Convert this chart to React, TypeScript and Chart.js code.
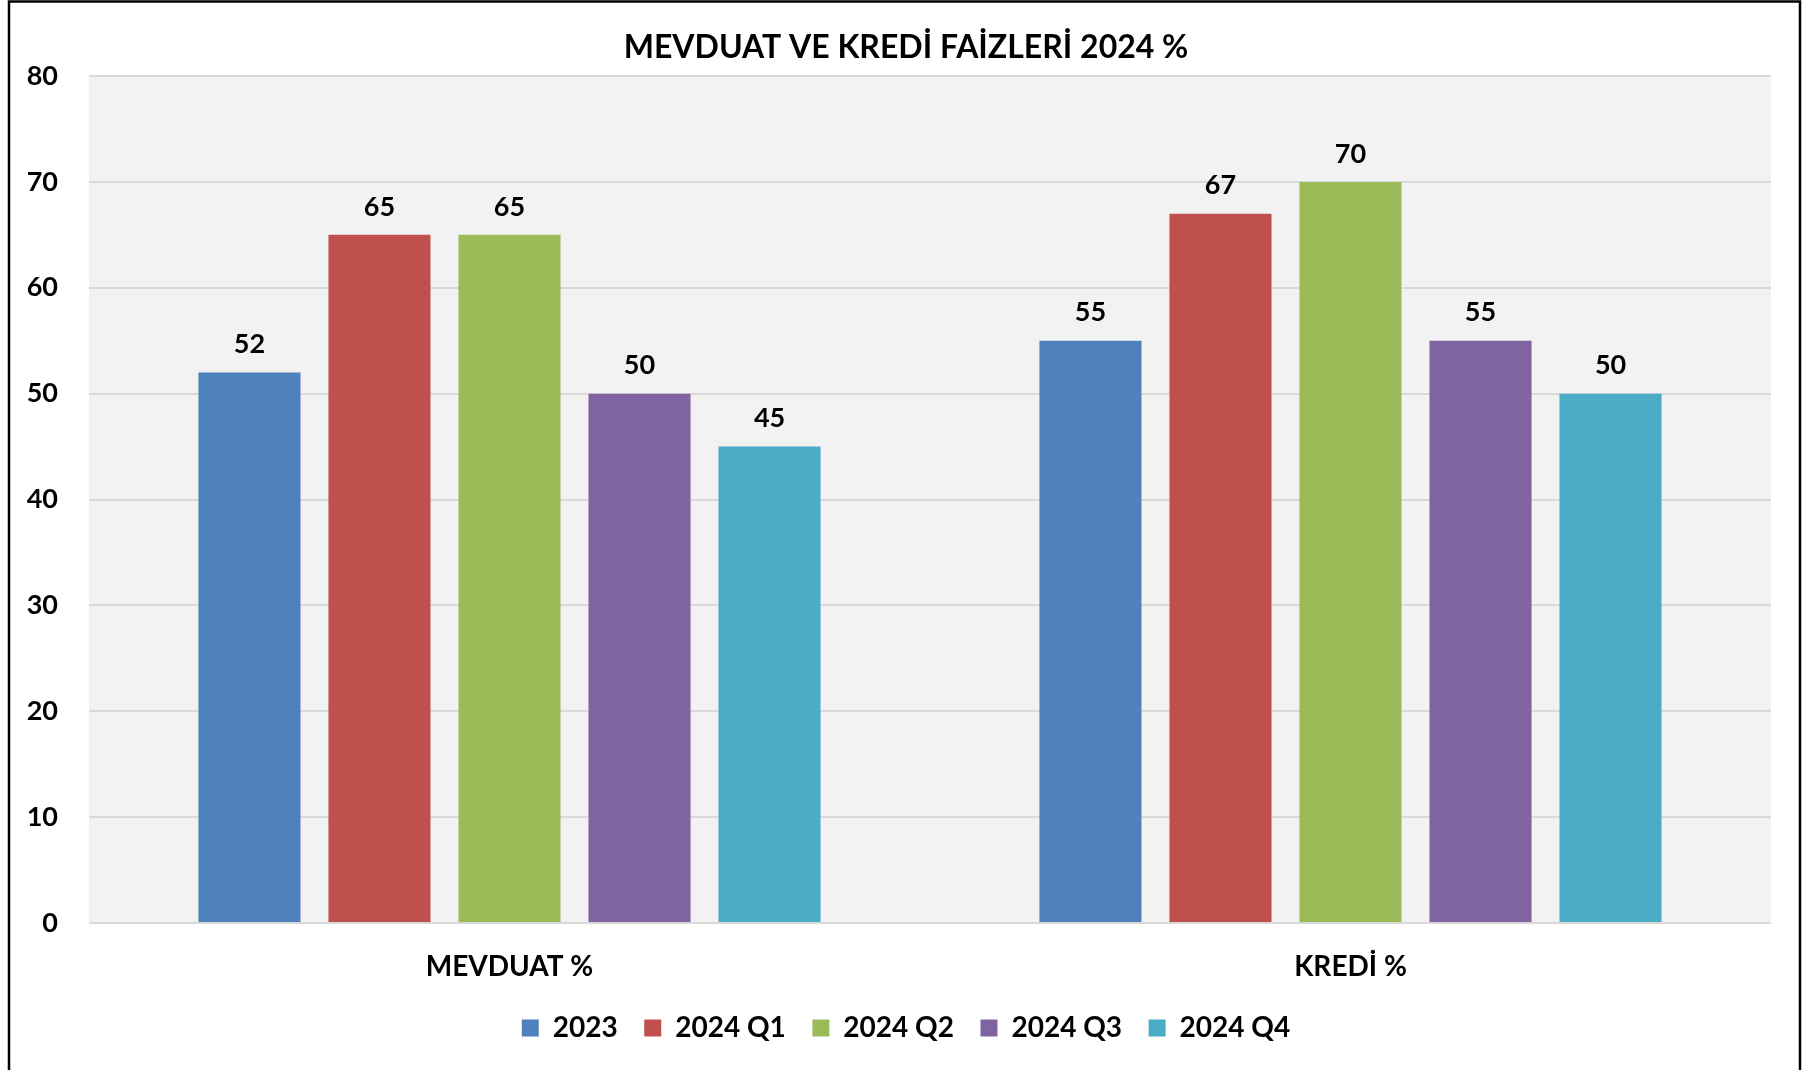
import React, { useEffect, useRef } from "react";
import { Chart, registerables } from "chart.js";

Chart.register(...registerables);

const chartTitle = "MEVDUAT VE KREDİ FAİZLERİ 2024 %";
const categories = ["MEVDUAT %", "KREDİ %"];
const seriesNames = ["2023", "2024 Q1", "2024 Q2", "2024 Q3", "2024 Q4"];
const values2023 = [52, 55];
const values2024Q1 = [65, 67];
const values2024Q2 = [65, 70];
const values2024Q3 = [50, 55];
const values2024Q4 = [45, 50];
const seriesColors = ["#4F81BD", "#C0504D", "#9BBB59", "#8064A2", "#4BACC6"];
const yMin = 0;
const yMax = 80;
const yStep = 10;

const FONT = "Lato, 'Open Sans', sans-serif";

const framePlugin = {
  id: "frame",
  beforeDraw(chart: any) {
    const { ctx, chartArea, width, height } = chart;
    ctx.save();
    ctx.fillStyle = "#FFFFFF";
    ctx.fillRect(0, 0, width, height);
    ctx.fillStyle = "#F2F2F2";
    ctx.fillRect(chartArea.left, chartArea.top, chartArea.right - chartArea.left, chartArea.bottom - chartArea.top);
    ctx.strokeStyle = "#000000";
    ctx.lineWidth = 2.5;
    ctx.strokeRect(9, 1.5, 1791, height + 20);
    ctx.restore();
  },
};

const valueLabelPlugin = {
  id: "valueLabels",
  afterDatasetsDraw(chart: any) {
    const { ctx } = chart;
    ctx.save();
    ctx.font = `bold 27px ${FONT}`;
    ctx.fillStyle = "#000000";
    ctx.textAlign = "center";
    ctx.textBaseline = "middle";
    chart.data.datasets.forEach((ds: any, di: number) => {
      const meta = chart.getDatasetMeta(di);
      meta.data.forEach((bar: any, i: number) => {
        ctx.fillText(String(ds.data[i]), bar.x, bar.y - 28);
      });
    });
    ctx.restore();
  },
};

export default function App() {
  const canvasRef = useRef<HTMLCanvasElement | null>(null);

  useEffect(() => {
    const canvas = canvasRef.current;
    if (!canvas) return;
    const seriesValues = [values2023, values2024Q1, values2024Q2, values2024Q3, values2024Q4];
    const chart = new Chart(canvas, {
      type: "bar",
      data: {
        labels: categories,
        datasets: seriesNames.map((name, i) => ({
          label: name,
          data: seriesValues[i],
          backgroundColor: seriesColors[i],
          borderWidth: 0,
          categoryPercentage: 0.773,
          barPercentage: 0.785,
          yAxisID: "y",
        })),
      },
      options: {
        responsive: false,
        animation: false,
        devicePixelRatio: 1,
        layout: { padding: { left: 0, right: 0, top: 0, bottom: 18 } },
        plugins: {
          title: {
            display: true,
            text: chartTitle,
            color: "#000000",
            font: { family: FONT, size: 32, weight: "bold", lineHeight: 1.2 },
            padding: { top: 28.1, bottom: 9.5 },
          },
          legend: {
            display: true,
            position: "bottom",
            labels: {
              color: "#000000",
              font: { family: FONT, size: 28, weight: "bold", lineHeight: 1.2 },
              boxWidth: 17,
              boxHeight: 17,
              padding: 26.5,
            },
          },
          tooltip: { enabled: false },
        },
        scales: {
          x: {
            grid: { display: false, drawTicks: false },
            border: { display: false },
            ticks: {
              color: "#000000",
              font: { family: FONT, size: 28, weight: "bold", lineHeight: 1.2 },
              padding: 27,
            },
            afterFit: (scale: any) => {
              scale.height = 64.5;
            },
          },
          y: {
            position: "left",
            min: yMin,
            max: yMax,
            grid: { color: "#D9D9D9", lineWidth: 2, drawTicks: false },
            border: { display: false },
            ticks: {
              stepSize: yStep,
              color: "#000000",
              font: { family: FONT, size: 27, weight: "bold", lineHeight: 1.2 },
              padding: 31,
            },
            afterFit: (scale: any) => {
              scale.width = 89;
            },
          },
          yRightSpace: {
            type: "linear",
            position: "right",
            display: true,
            grid: { display: false, drawTicks: false },
            border: { display: false },
            ticks: { display: false },
            afterFit: (scale: any) => {
              scale.width = 41;
            },
          },
        },
      },
      plugins: [framePlugin, valueLabelPlugin],
    });
    return () => chart.destroy();
  }, []);

  return (
    <canvas
      ref={canvasRef}
      width={1812}
      height={1070}
      style={{ position: "absolute", left: 0, top: 0, width: 1812, height: 1070, display: "block" }}
    />
  );
}
